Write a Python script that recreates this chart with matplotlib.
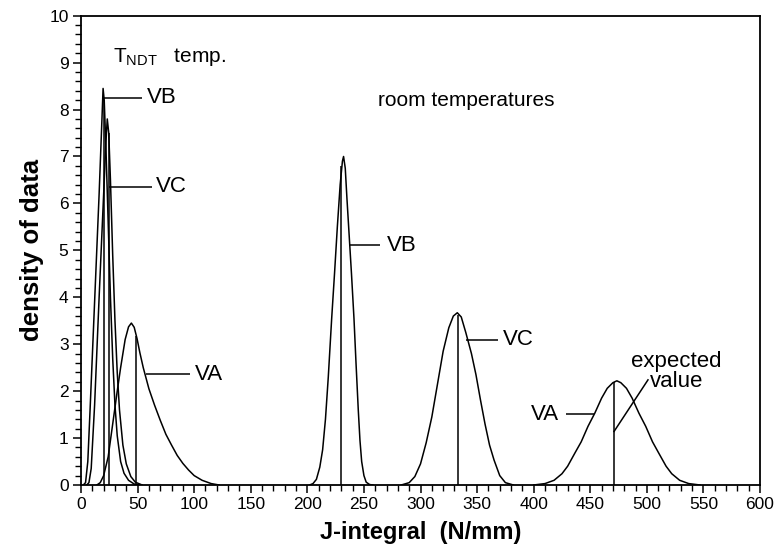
###density curves of J-integral, low temperature and room temperature
import matplotlib
matplotlib.use('Agg')
import matplotlib.pyplot as plt
from matplotlib.ticker import MultipleLocator

plt.rcParams['font.family'] = ['Liberation Sans', 'DejaVu Sans']

###data
# T_NDT temperature
vb_low_x = [2, 4, 6, 8, 12, 16, 18.5, 19.5, 20.5, 22, 24, 26, 28, 30, 32, 35, 38, 42, 47, 52]
vb_low_y = [0, 0.05, 0.5, 1.6, 3.9, 6.2, 7.8, 8.45, 8.2, 7.2, 5.6, 4.0, 2.7, 1.7, 1.05, 0.5, 0.25, 0.1, 0.02, 0]
vc_low_x = [5, 7, 9, 12, 16, 20, 22, 23.2, 24.5, 26, 28, 30, 32, 34, 37, 40, 44, 48, 54]
vc_low_y = [0, 0.05, 0.35, 1.7, 4.0, 6.2, 7.3, 7.8, 7.5, 6.5, 4.9, 3.5, 2.4, 1.6, 0.85, 0.45, 0.18, 0.06, 0]
va_low_x = [14, 17, 20, 24, 28, 32, 35, 39, 42, 44.5, 47, 49.5, 52, 55, 60, 65, 70, 75, 80,
            85, 90, 95, 100, 107, 115, 122]
va_low_y = [0, 0.05, 0.2, 0.6, 1.3, 2.0, 2.5, 3.1, 3.37, 3.45, 3.36, 3.12, 2.82, 2.5, 2.05, 1.7, 1.38, 1.08, 0.85,
            0.63, 0.46, 0.32, 0.2, 0.1, 0.03, 0]
# room temperatures
vb_room_x = [202, 205, 208, 211, 213.5, 216, 218.5, 221.5, 224, 226.5, 229, 231, 232, 233.5, 235, 237,
             239, 241.2, 243, 245, 246.5, 248, 250, 252, 255, 258]
vb_room_y = [0, 0.03, 0.12, 0.38, 0.75, 1.4, 2.3, 3.55, 4.5, 5.5, 6.4, 6.9, 7.0, 6.75, 6.1, 5.3,
             4.5, 3.55, 2.6, 1.6, 0.95, 0.5, 0.2, 0.06, 0.01, 0]
vc_room_x = [283, 290, 295, 300, 305, 310, 315, 320, 325, 329, 332.5, 336, 340, 345, 349, 353, 357,
             361, 365, 370, 375, 382]
vc_room_y = [0, 0.05, 0.18, 0.45, 0.9, 1.45, 2.15, 2.85, 3.35, 3.6, 3.67, 3.58, 3.25, 2.8, 2.35, 1.81, 1.3,
             0.85, 0.53, 0.2, 0.05, 0]
va_room_x = [400, 410, 418, 425, 430, 436.4, 442, 448, 454, 460, 465, 470, 473.5, 477, 482, 487, 493,
             499, 505, 510.5, 517, 522, 529, 537, 547]
va_room_y = [0, 0.03, 0.1, 0.24, 0.4, 0.68, 0.92, 1.25, 1.53, 1.85, 2.06, 2.18, 2.22, 2.18, 2.06, 1.85, 1.53,
             1.25, 0.92, 0.68, 0.4, 0.24, 0.1, 0.03, 0]

curves_x = [vb_low_x, vc_low_x, va_low_x, vb_room_x, vc_room_x, va_room_x]
curves_y = [vb_low_y, vc_low_y, va_low_y, vb_room_y, vc_room_y, va_room_y]

# expected values (vertical lines) and curve height there
expected_x = [20.5, 24.5, 49, 229.5, 333, 471]
expected_top = [8.2, 7.5, 3.17, 6.8, 3.63, 2.2]

# curve names with leader lines
label_text = ['VB', 'VC', 'VA', 'VB', 'VC', 'VA']
leader_x0 = [20.5, 24.5, 57, 237, 340, 429]
leader_x1 = [54, 62.5, 96, 264, 368.5, 453]
leader_y = [8.25, 6.35, 2.36, 5.11, 3.1, 1.51]
label_x = [58, 66.5, 101, 270, 373, 422]
label_ha = ['left', 'left', 'left', 'left', 'left', 'right']


###plot
fig = plt.figure(figsize=(7.76, 5.51), dpi=100)
ax = fig.add_axes([0.1044, 0.1198, 0.875, 0.8517])

for cx, cy in zip(curves_x, curves_y):
    ax.plot(cx, cy, color='black', lw=1.1, solid_joinstyle='round')

ax.vlines(expected_x, 0, expected_top, color='black', lw=1.1)
ax.hlines(leader_y, leader_x0, leader_x1, color='black', lw=1.1)
for t, lx, ly, ha in zip(label_text, label_x, leader_y, label_ha):
    ax.text(lx, ly, t, fontsize=16, ha=ha, va='center')

# "expected value" pointer
ax.plot([471, 501], [1.14, 2.24], color='black', lw=1.1)
ax.text(526, 2.42, 'expected\nvalue', fontsize=16, ha='center', va='center', linespacing=0.95)

ax.text(28, 9.12, r'T$_{\mathregular{NDT}}$   temp.', fontsize=15, va='center')
ax.text(262, 8.2, 'room temperatures', fontsize=15, va='center')

###axes
ax.set_xlim(0, 600)
ax.set_ylim(0, 10)
ax.xaxis.set_major_locator(MultipleLocator(50))
ax.xaxis.set_minor_locator(MultipleLocator(10))
ax.yaxis.set_major_locator(MultipleLocator(1))
ax.yaxis.set_minor_locator(MultipleLocator(0.2))
ax.tick_params(which='major', length=6, width=1.1, direction='out', labelsize=12.5, pad=3)
ax.tick_params(which='minor', length=4, width=1.0, direction='out')
for sp in ax.spines.values():
    sp.set_linewidth(1.3)

ax.set_xlabel('J-integral  (N/mm)', fontsize=17, fontweight='bold', labelpad=6)
ax.set_ylabel('density of data', fontsize=18.5, fontweight='bold', labelpad=4)

plt.savefig('out.png', dpi=100)
